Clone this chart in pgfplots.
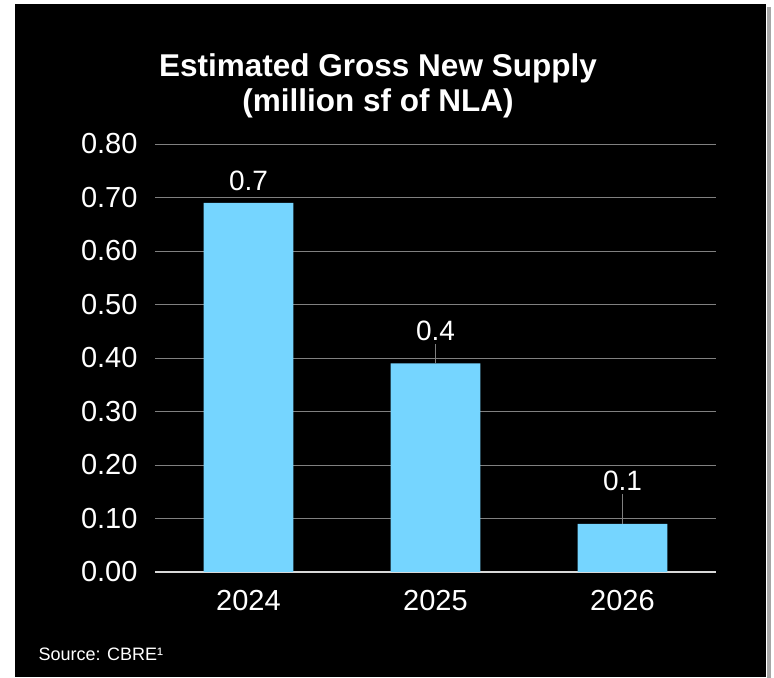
\documentclass[border=0pt]{standalone}
\usepackage{pgfplots}
\pgfplotsset{compat=1.18}
\usepackage{pgfplotstable}
\usetikzlibrary{backgrounds}
\usepackage{fontspec}
\setmainfont{Liberation Sans}
\definecolor{barblue}{RGB}{117,213,255}
\definecolor{gridgray}{RGB}{128,128,128}
\definecolor{axisgray}{RGB}{217,217,217}
\pgfplotstableread{
x y err off label
0 0.69 0 9 0.7
1 0.39 0.0355 19 0.4
2 0.09 0.056 30 0.1
}\supply
\begin{document}
\begin{tikzpicture}
\begin{axis}[
  name=ax, scale only axis,
  width=561bp, height=428bp,
  xmin=-0.5, xmax=2.5, ymin=0, ymax=0.8,
  clip=false,
  xtick={0,1,2}, xticklabels={2024,2025,2026},
  ytick={0,0.1,0.2,0.3,0.4,0.5,0.6,0.7,0.8},
  yticklabel={\pgfmathprintnumber[fixed,fixed zerofill,precision=2]{\tick}},
  /pgf/number format/assume math mode=true,
  major tick length=0pt,
  ymajorgrids, grid style={gridgray, line width=0.8bp},
  axis x line*=bottom, axis y line*=left,
  x axis line style={axisgray, line width=1.2bp, -},
  y axis line style={draw=none},
  tick label style={white, font=\fontsize{29bp}{34bp}\selectfont},
  yticklabel style={xshift=-14bp},
  xticklabel style={yshift=-15bp},
]
\addplot[ybar, bar width=0.48, fill=barblue, draw=none,
  nodes near coords, point meta=explicit symbolic,
  visualization depends on={\thisrow{off} \as \off},
  every node near coord/.append style={white, anchor=south,
    font=\fontsize{28bp}{33bp}\selectfont, yshift=\off bp},
  error bars/.cd, y dir=plus, y explicit, error mark=none,
  error bar style={gridgray, line width=0.8bp}]
  table[x=x, y=y, y error=err, meta=label] {\supply};
\end{axis}
\begin{scope}[on background layer, shift={(ax.south west)}, x=1bp, y=1bp]
\fill[white] (-155,-106) rectangle (619,572);
\fill[black!35] (612,-106) rectangle (616,565);
\fill[black] (-140,-105) rectangle (611,568);
\end{scope}
\begin{scope}[shift={(ax.south west)}, x=1bp, y=1bp]
\node[white, font=\bfseries\fontsize{31.5bp}{35bp}\selectfont, align=center] at (223,486) {Estimated Gross New Supply\\(million sf of NLA)};
\node[white, anchor=base west, font=\fontsize{18bp}{21bp}\selectfont] at (-120,-89) {Source: CBRE¹};
\end{scope}
\end{tikzpicture}
\end{document}
